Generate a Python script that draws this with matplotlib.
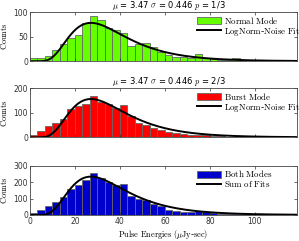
import numpy as np
import matplotlib
matplotlib.use("Agg")
import matplotlib.pyplot as plt

plt.rcParams['mathtext.fontset'] = 'cm'
plt.rcParams['font.family'] = ['DejaVu Sans']

# histogram counts, bin width 10/3 uJy-sec starting at 0
bin_width = 10.0 / 3
normal_counts = [6, 6, 10, 22, 35, 47, 54, 77, 92, 84, 67, 63, 58, 31, 35, 37, 28, 18,
                 12, 9, 8, 7, 15, 6, 5, 3, 3, 6, 1, 3, 1, 1, 0, 0, 0, 1]
burst_counts = [8, 25, 45, 57, 74, 114, 126, 137, 167, 142, 135, 118, 132, 86, 60, 52, 40, 32,
                20, 16, 13, 11, 10, 11, 5, 4, 3, 2, 2, 1, 1, 1, 0, 0, 0, 0]
both_counts = [14, 31, 55, 79, 109, 161, 180, 214, 259, 226, 202, 181, 190, 117, 95, 89, 68, 52,
               32, 25, 21, 18, 24, 17, 10, 7, 6, 8, 3, 4, 2, 2, 0, 0, 0, 1]

# fit parameters
fit_mu = 3.52
fit_sigma = 0.47
p_normal = 1.0 / 3
p_burst = 2.0 / 3

panel_titles = [r'$\mu$ = 3.47 $\sigma$ = 0.446 $p$ = 1/3',
                r'$\mu$ = 3.47 $\sigma$ = 0.446 $p$ = 2/3',
                None]
labels = [(r'$\mathrm{Normal\ Mode}$', r'$\mathrm{LogNorm}$-$\mathrm{Noise\ Fit}$'),
          (r'$\mathrm{Burst\ Mode}$', r'$\mathrm{LogNorm}$-$\mathrm{Noise\ Fit}$'),
          (r'$\mathrm{Both\ Modes}$', r'$\mathrm{Sum\ of\ Fits}$')]
colors = ['#66ff00', '#ff0000', '#0000cc']
yticks = [[0, 50, 100], [0, 100, 200], [0, 100, 200, 300]]
xticks = [0, 20, 40, 60, 80, 100]


def lognorm(x, mu, s):
    return np.exp(-(np.log(x) - mu) ** 2 / (2 * s ** 2)) / (x * s * np.sqrt(2 * np.pi))


edges = np.arange(len(normal_counts) + 1) * bin_width
centers = edges[:-1] + bin_width / 2
xx = np.linspace(0.05, 120, 600)
n_total = sum(both_counts)
fit_normal = n_total * bin_width * p_normal * lognorm(xx, fit_mu, fit_sigma)
fit_burst = n_total * bin_width * p_burst * lognorm(xx, fit_mu, fit_sigma)
fits = [fit_normal, fit_burst, fit_normal + fit_burst]
counts = [normal_counts, burst_counts, both_counts]

fig = plt.figure(figsize=(2.99, 2.41), dpi=100)
bottoms = [0.746, 0.430, 0.108]
for i in range(3):
    ax = fig.add_axes([0.1003, bottoms[i], 0.893, 0.204])
    ax.hist(centers, bins=edges, weights=counts[i], color=colors[i],
            edgecolor='#666666', linewidth=0.6, label=labels[i][0])
    ax.plot(xx, fits[i], color='black', lw=1.4, label=labels[i][1])
    ax.set_xlim(0, 118.7)
    ax.set_ylim(yticks[i][0], yticks[i][-1])
    ax.set_yticks(yticks[i])
    ax.set_xticks(xticks)
    ax.tick_params(direction='in', length=2, width=0.5, labelsize=5.5,
                   top=True, right=True, pad=1.5, colors='#333333')
    if i < 2:
        ax.set_xticklabels([])
    for sp in ax.spines.values():
        sp.set_linewidth(0.6)
        sp.set_color('#444444')
    ax.set_ylabel(r'$\mathrm{Counts}$', fontsize=6, labelpad=3)
    if panel_titles[i]:
        ax.set_title(panel_titles[i], fontsize=6, pad=2, x=0.52)
    leg = ax.legend(loc='upper left', bbox_to_anchor=(0.625, 0.95), frameon=False,
                    fontsize=6.4, borderpad=0, borderaxespad=0, handlelength=2.7,
                    handleheight=0.8, handletextpad=0.3, labelspacing=0.0)

ax.set_xlabel(r'$\mathrm{Pulse\ Energies\ (}\mu\mathrm{Jy}$-$\mathrm{sec)}$', fontsize=6, labelpad=1.5)

fig.savefig('out.png', dpi=100)
